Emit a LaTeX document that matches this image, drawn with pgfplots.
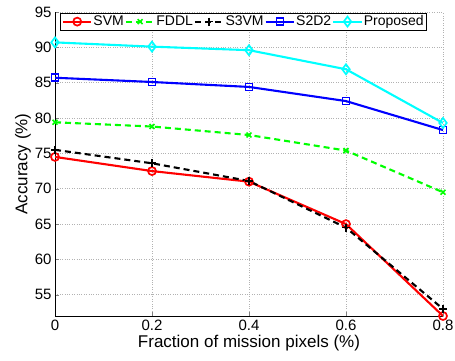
\documentclass[border=0pt]{standalone}
\usepackage{pgfplots}
\pgfplotsset{compat=1.18}
\usepackage{fontspec}
\setmainfont{Liberation Sans}
\definecolor{mred}{RGB}{255,0,0}
\definecolor{mgreen}{RGB}{0,255,0}
\definecolor{mblue}{RGB}{0,0,255}
\definecolor{mcyan}{RGB}{0,255,255}
\begin{document}
\begin{tikzpicture}
\begin{axis}[
  name=ax,
  scale only axis,
  width=388pt, height=304pt,
  xmin=0, xmax=0.8, ymin=52, ymax=95,
  xtick={0,0.2,0.4,0.6,0.8},
  xticklabels={0,0.2,0.4,0.6,0.8},
  ytick={55,60,65,70,75,80,85,90,95},
  /pgf/number format/assume math mode=true,
  axis lines=left,
  axis line style={-, black, line width=0.8pt},
  tick label style={font=\fontsize{15}{17}\selectfont},
  label style={font=\fontsize{17}{19}\selectfont},
  xlabel={Fraction of mission pixels (\%)},
  ylabel={Accuracy (\%)},
  xlabel style={yshift=2pt},
  ylabel style={yshift=-3pt},
  tick align=inside,
  major tick length=4pt,
  grid=major,
  major grid style={gray!60, dotted, line width=0.6pt},
  legend columns=5,
  legend image code/.code={\draw[mark repeat=2,mark phase=2] plot coordinates {(0cm,0cm) (0.5cm,0cm) (1.0cm,0cm)};},
  legend style={at={(0.013,0.997)}, anchor=north west, font=\fontsize{14}{16}\selectfont,
    draw=black, line width=0.8pt, inner sep=1.5pt, column sep=0pt,
    nodes={inner xsep=1pt, inner ysep=1pt}},
  legend cell align=left,
]
\addplot[mred, line width=2.1pt, mark=o, mark size=4pt, mark options={solid, line width=1.7pt}] coordinates {(0,74.5) (0.2,72.5) (0.4,71.0) (0.6,65.0) (0.8,52.0)};
\addlegendentry{SVM}
\addplot[mgreen, line width=2.1pt, dash pattern=on 6pt off 4pt, mark=x, mark size=3.5pt, mark options={solid, line width=1.7pt}] coordinates {(0,79.4) (0.2,78.8) (0.4,77.6) (0.6,75.4) (0.8,69.5)};
\addlegendentry{FDDL}
\addplot[black, line width=2.1pt, dash pattern=on 6pt off 4pt, mark=+, mark size=4pt, mark options={solid, line width=1.7pt}] coordinates {(0,75.5) (0.2,73.6) (0.4,71.1) (0.6,64.5) (0.8,53.0)};
\addlegendentry{S3VM}
\addplot[mblue, line width=2.1pt, mark=square, mark size=3.5pt, mark options={solid, line width=1.7pt}] coordinates {(0,85.7) (0.2,85.1) (0.4,84.4) (0.6,82.4) (0.8,78.3)};
\addlegendentry{S2D2}
\addplot[mcyan, line width=2.1pt, mark=diamond, mark size=5pt, mark options={solid, line width=1.7pt}] coordinates {(0,90.7) (0.2,90.1) (0.4,89.6) (0.6,86.9) (0.8,79.3)};
\addlegendentry{Proposed}
\end{axis}
\pgfresetboundingbox
\path[use as bounding box] ([shift={(-55pt,-44pt)}]ax.south west) rectangle ([shift={(12pt,12pt)}]ax.north east);
\end{tikzpicture}
\end{document}
